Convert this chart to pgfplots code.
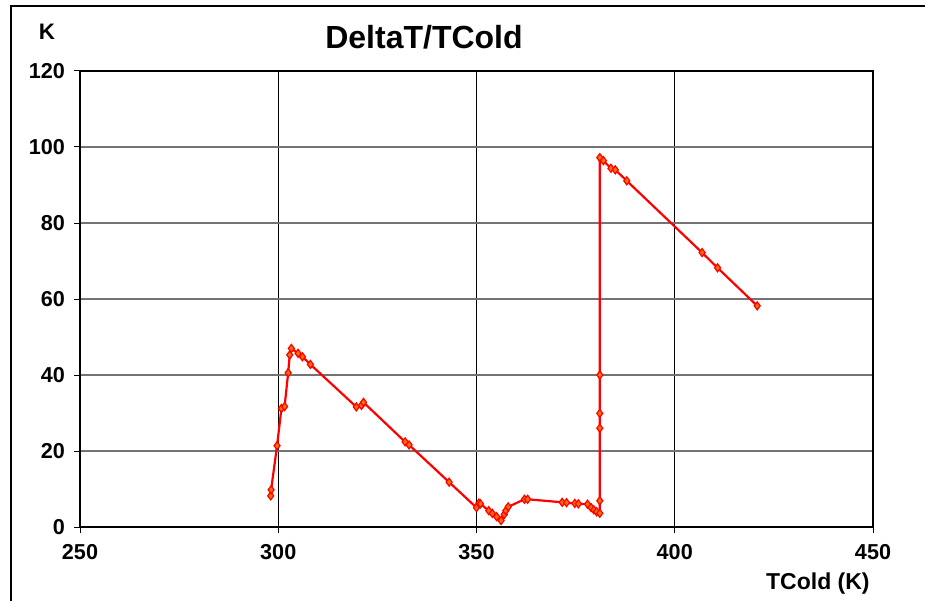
\documentclass[border=0pt]{standalone}
\usepackage{pgfplots}
\pgfplotsset{compat=1.18}
\usepackage{fontspec}
\setmainfont{Liberation Sans}
\definecolor{mkfill}{RGB}{255,110,0}
\begin{document}
\begin{tikzpicture}
\useasboundingbox (-40pt,-36.5pt) rectangle (423pt,263.5pt);
\draw[line width=1pt] (-34.5pt,-40pt) -- (-34.5pt,260.5pt) -- (422.5pt,260.5pt);
\begin{axis}[
  at={(0pt,0pt)}, anchor=origin,
  scale only axis,
  width=396.5pt, height=228pt,
  xmin=250, xmax=450, ymin=0, ymax=120,
  xtick={250,300,...,450},
  ytick={0,20,...,120},
  tick pos=left,
  tick align=outside,
  major tick length=3pt,
  every tick/.style={black, line width=0.5pt},
  axis line style={black, line width=0.6pt},
  xmajorgrids, ymajorgrids,
  x grid style={black, line width=0.5pt},
  y grid style={gray!90!black, line width=0.9pt},
  /pgf/number format/assume math mode=true,
  /pgf/number format/1000 sep={},
  tick label style={font=\fontsize{10.8}{12}\selectfont\bfseries},
  xticklabel style={anchor=north, yshift=-2pt},
  yticklabel style={anchor=east, xshift=-1pt},
  clip=false,
]
\addplot[red, line width=1.1pt, mark=diamond*, mark size=2pt,
  mark options={draw=red, fill=mkfill, line width=0.6pt}] coordinates {
(298.1,8.2)
(298.2,9.8)
(299.7,21.4)
(300.8,31.2)
(301.6,31.7)
(302.5,40.6)
(302.9,45.3)
(303.3,47.0)
(305.0,45.7)
(306.1,44.8)
(308.1,42.8)
(319.7,31.6)
(321.0,32.0)
(321.5,32.8)
(332.0,22.4)
(333.0,21.6)
(343.1,11.8)
(350.0,5.1)
(350.6,6.3)
(351.0,6.1)
(353.1,4.3)
(354.0,3.6)
(355.1,2.7)
(356.2,1.7)
(357.0,3.3)
(357.4,4.3)
(358.0,5.3)
(362.1,7.3)
(362.9,7.3)
(371.6,6.5)
(372.7,6.4)
(374.8,6.2)
(375.7,6.1)
(378.0,6.0)
(378.9,5.1)
(379.6,4.5)
(380.3,4.0)
(381.1,3.6)
(381.1,6.9)
(381.1,26.0)
(381.1,29.9)
(381.1,40.0)
(381.1,97.2)
(382.0,96.4)
(383.9,94.4)
(385.0,94.0)
(387.9,91.1)
(406.9,72.2)
(410.8,68.2)
(420.8,58.2)
};
\end{axis}
\node[font=\fontsize{16}{19}\selectfont\bfseries] at (172pt,245pt) {DeltaT/TCold};
\node[font=\fontsize{11.2}{13}\selectfont\bfseries] at (-16.5pt,247.5pt) {K};
\node[font=\fontsize{11.5}{13}\selectfont\bfseries, anchor=east, inner sep=0pt] at (395pt,-28.5pt) {TCold (K)};
\end{tikzpicture}
\end{document}
